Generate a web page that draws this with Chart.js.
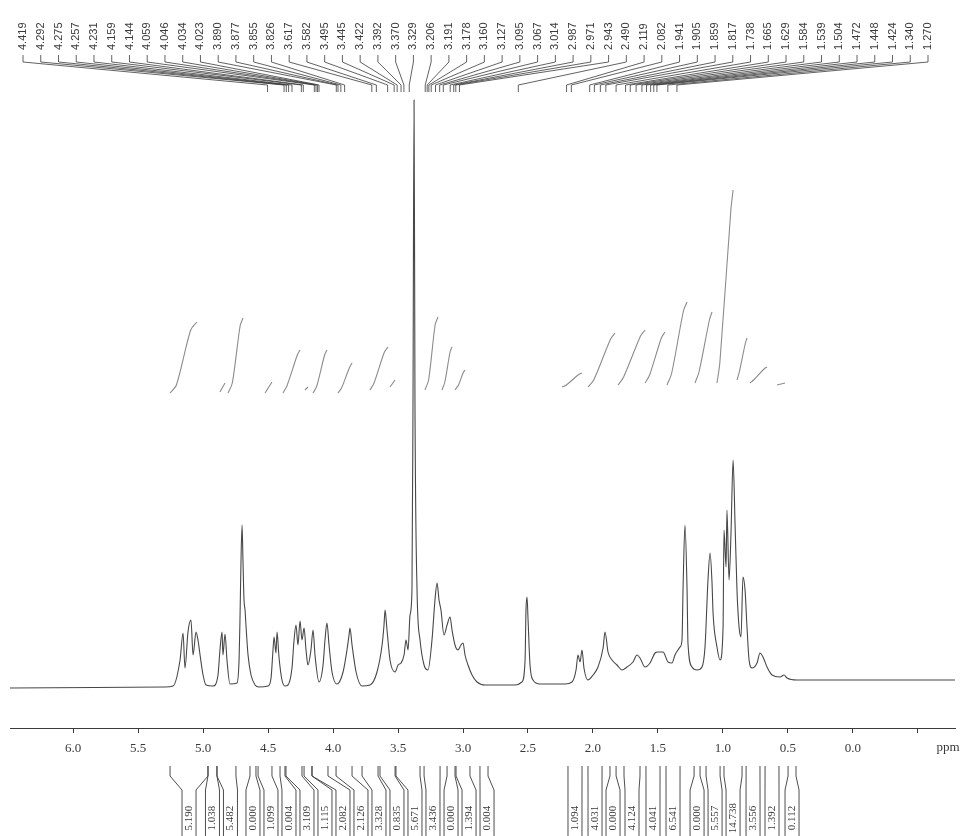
<!DOCTYPE html>
<html>
<head>
<meta charset="utf-8">
<script src="https://cdn.jsdelivr.net/npm/chart.js@4.4.1/dist/chart.umd.min.js"></script>
<style>
  html, body { margin: 0; padding: 0; background: #ffffff; }
</style>
</head>
<body>
<canvas id="nmr" width="963" height="836"></canvas>
<script>
// 1H NMR spectrum (scanned print): peak list on top, integrals below the axis

// peak picking list, ppm
const peakList = [
  4.419, 4.292, 4.275, 4.257, 4.231, 4.159, 4.144, 4.059, 4.046, 4.034, 4.023,
  3.890, 3.877, 3.855, 3.826, 3.617, 3.582, 3.495, 3.445, 3.422, 3.392, 3.370,
  3.329, 3.206, 3.191, 3.178, 3.160, 3.127, 3.095, 3.067, 3.014, 2.987, 2.971,
  2.943, 2.490, 2.119, 2.082, 1.941, 1.905, 1.859, 1.817, 1.738, 1.665, 1.629,
  1.584, 1.539, 1.504, 1.472, 1.448, 1.424, 1.340, 1.270
];

// spectrum trace: [ppm, intensity]
const spectrum = [
  [6.400, 0], [5.208, 1], [5.146, 2], [5.092, 28], [5.069, 55], [5.054, 20],
  [5.031, 56], [5.008, 68], [4.992, 33], [4.969, 56], [4.954, 48], [4.938, 33],
  [4.915, 13], [4.892, 3], [4.838, 2], [4.800, 13], [4.785, 38], [4.769, 56],
  [4.762, 33], [4.746, 54], [4.731, 28], [4.708, 4], [4.654, 5], [4.638, 28],
  [4.631, 68], [4.623, 128], [4.615, 163], [4.608, 128], [4.600, 88], [4.592, 78],
  [4.585, 63], [4.569, 33], [4.546, 13], [4.515, 3], [4.485, 1], [4.415, 2],
  [4.392, 10], [4.377, 38], [4.369, 51], [4.354, 35], [4.346, 56], [4.331, 31],
  [4.308, 8], [4.285, 2], [4.262, 3], [4.231, 20], [4.215, 48], [4.200, 63],
  [4.185, 43], [4.169, 67], [4.154, 48], [4.138, 60], [4.123, 38], [4.108, 23],
  [4.085, 38], [4.069, 58], [4.054, 33], [4.023, 6], [3.992, 23], [3.977, 48],
  [3.962, 65], [3.946, 43], [3.923, 16], [3.885, 4], [3.838, 16], [3.808, 38],
  [3.792, 53], [3.785, 60], [3.769, 43], [3.738, 16], [3.692, 2], [3.631, 3],
  [3.577, 16], [3.538, 43], [3.523, 63], [3.515, 78], [3.500, 58], [3.477, 28],
  [3.438, 16], [3.415, 23], [3.392, 25], [3.369, 33], [3.354, 48], [3.338, 38],
  [3.323, 73], [3.308, 98], [3.300, 288], [3.292, 588], [3.285, 288], [3.269, 98],
  [3.246, 48], [3.215, 23], [3.185, 18], [3.154, 48], [3.131, 88], [3.115, 105],
  [3.100, 88], [3.085, 78], [3.062, 53], [3.038, 63], [3.015, 71], [3.000, 58],
  [2.977, 43], [2.954, 38], [2.931, 43], [2.915, 45], [2.900, 33], [2.877, 23],
  [2.846, 13], [2.808, 6], [2.746, 3], [2.631, 3], [2.515, 3], [2.462, 6],
  [2.438, 28], [2.431, 78], [2.423, 91], [2.415, 68], [2.400, 23], [2.377, 8],
  [2.323, 4], [2.131, 4], [2.077, 6], [2.046, 18], [2.031, 33], [2.015, 26],
  [2.000, 38], [1.985, 20], [1.954, 8], [1.915, 13], [1.877, 21], [1.838, 40],
  [1.823, 56], [1.800, 36], [1.769, 28], [1.731, 23], [1.692, 18], [1.654, 21],
  [1.608, 26], [1.577, 33], [1.554, 30], [1.515, 21], [1.477, 25], [1.438, 35],
  [1.415, 36], [1.377, 36], [1.338, 26], [1.308, 25], [1.285, 33], [1.262, 38],
  [1.246, 41], [1.231, 48], [1.223, 98], [1.208, 163], [1.192, 98], [1.185, 45],
  [1.154, 21], [1.115, 18], [1.077, 21], [1.054, 41], [1.031, 108], [1.015, 135],
  [1.000, 105], [0.992, 75], [0.962, 41], [0.938, 28], [0.915, 61], [0.908, 158],
  [0.892, 121], [0.885, 178], [0.869, 108], [0.854, 155], [0.838, 228], [0.823, 165],
  [0.808, 98], [0.792, 61], [0.777, 51], [0.762, 111], [0.746, 98], [0.731, 61],
  [0.715, 28], [0.692, 20], [0.654, 25], [0.631, 35], [0.608, 31], [0.577, 21],
  [0.538, 13], [0.477, 11], [0.446, 13], [0.423, 10], [0.346, 8], [-0.869, 8]
];

// integral curves (same intensity units, drawn above the peaks)
const integralCurves = [
  [[5.169, 295], [5.120, 303], [5.010, 358], [4.962, 366]],
  [[4.785, 296], [4.746, 305]],
  [[4.723, 295], [4.690, 305], [4.630, 362], [4.608, 370]],
  [[4.438, 295], [4.385, 306]],
  [[4.300, 295], [4.270, 302], [4.190, 333], [4.169, 338]],
  [[4.131, 298], [4.108, 301]],
  [[4.069, 295], [4.040, 302], [3.980, 333], [3.962, 338]],
  [[3.877, 295], [3.850, 300], [3.790, 320], [3.769, 325]],
  [[3.631, 298], [3.600, 305], [3.520, 336], [3.492, 341]],
  [[3.477, 301], [3.438, 308]],
  [[3.208, 298], [3.180, 308], [3.130, 363], [3.108, 371]],
  [[3.077, 298], [3.055, 306], [3.015, 336], [3.000, 341]],
  [[2.977, 298], [2.950, 303], [2.915, 315], [2.900, 318]],
  [[2.154, 301], [2.120, 303], [2.030, 313], [2.000, 315]],
  [[1.954, 301], [1.910, 308], [1.780, 349], [1.746, 355]],
  [[1.723, 303], [1.680, 311], [1.550, 352], [1.515, 358]],
  [[1.515, 305], [1.480, 313], [1.390, 350], [1.362, 356]],
  [[1.346, 303], [1.310, 315], [1.220, 377], [1.192, 386]],
  [[1.131, 305], [1.100, 316], [1.020, 368], [1.000, 376]],
  [[0.962, 305], [0.940, 325], [0.855, 478], [0.838, 498]],
  [[0.808, 308], [0.790, 316], [0.745, 344], [0.731, 350]],
  [[0.708, 305], [0.680, 308], [0.600, 319], [0.577, 321]],
  [[0.500, 303], [0.438, 305]]
];

// integral values printed under the axis, with the ppm range each one covers
const integralValues = [
  '5.190', '1.038', '5.482', '0.000', '1.099', '0.004', '3.109', '1.115', '2.082',
  '2.126', '3.328', '0.835', '5.671', '3.436', '0.000', '1.394', '0.004',
  '1.094', '4.031', '0.000', '4.124', '4.041', '6.541', '0.000', '5.557',
  '14.738', '3.556', '1.392', '0.112'
];
const integralRanges = [
  [5.169, 4.877], [4.877, 4.808], [4.808, 4.662], [4.554, 4.508], [4.492, 4.385],
  [4.323, 4.285], [4.277, 4.154], [4.138, 4.077], [4.077, 3.954], [3.892, 3.769],
  [3.692, 3.569], [3.554, 3.438], [3.431, 3.246], [3.215, 3.092], [3.038, 2.977],
  [2.969, 2.862], [2.785, 2.723],
  [2.108, 2.000], [1.954, 1.846], [1.785, 1.738], [1.677, 1.554], [1.508, 1.400],
  [1.354, 1.246], [1.138, 1.092], [1.046, 0.938], [0.908, 0.769], [0.738, 0.631],
  [0.592, 0.485], [0.415, 0.354]
];

// printed axis
const axisTicks = [6.0, 5.5, 5.0, 4.5, 4.0, 3.5, 3.0, 2.5, 2.0, 1.5, 1.0, 0.5, 0.0, -0.5];
const axisUnit = 'ppm';

const INK = '#3a3a3a';

// ---------- peak list on top ----------
const peakLabelPlugin = {
  id: 'peakLabels',
  afterDraw(chart) {
    const ctx = chart.ctx;
    const xs = chart.scales.x;
    const first = 23;
    const last = 928;
    const step = (last - first) / (peakList.length - 1);

    ctx.save();
    ctx.strokeStyle = INK;
    ctx.fillStyle = INK;
    ctx.lineWidth = 0.8;
    ctx.font = '11px "Liberation Sans", Arial, sans-serif';
    peakList.forEach((p, i) => {
      const lx = first + i * step;
      const px = xs.getPixelForValue(p);
      ctx.beginPath();
      ctx.moveTo(lx, 55);
      ctx.lineTo(lx, 62);
      ctx.lineTo(px, 85);
      ctx.lineTo(px, 92);
      ctx.stroke();

      ctx.save();
      ctx.translate(lx, 50);
      ctx.rotate(-Math.PI / 2);
      ctx.textAlign = 'left';
      ctx.textBaseline = 'middle';
      ctx.fillText(p.toFixed(3), 0, 0);
      ctx.restore();
    });
    ctx.restore();
  }
};

// ---------- integral values under the axis ----------
const integralLabelPlugin = {
  id: 'integralLabels',
  afterDraw(chart) {
    const ctx = chart.ctx;
    const xs = chart.scales.x;
    const gap = 18;
    const half = 7;

    // box centres: centre of range, pushed right so the boxes don't overlap
    let prev = -Infinity;
    const centres = integralRanges.map(([a, b]) => {
      let c = (xs.getPixelForValue(a) + xs.getPixelForValue(b)) / 2;
      if (c < prev + gap) c = prev + gap;
      prev = c;
      return c;
    });

    ctx.save();
    ctx.strokeStyle = INK;
    ctx.fillStyle = INK;
    ctx.lineWidth = 0.9;
    ctx.font = '11px "Liberation Serif", "Times New Roman", serif';
    integralRanges.forEach(([a, b], i) => {
      const xa = xs.getPixelForValue(a);
      const xb = xs.getPixelForValue(b);
      const c = centres[i];
      ctx.beginPath();
      ctx.moveTo(xa, 766);
      ctx.lineTo(xa, 776);
      ctx.lineTo(c - half, 790);
      ctx.lineTo(c - half, 840);
      ctx.moveTo(xb, 766);
      ctx.lineTo(xb, 776);
      ctx.lineTo(c + half, 790);
      ctx.lineTo(c + half, 840);
      ctx.stroke();

      ctx.save();
      ctx.translate(c, 818);
      ctx.rotate(-Math.PI / 2);
      ctx.textAlign = 'center';
      ctx.textBaseline = 'middle';
      ctx.fillText(integralValues[i], 0, 0);
      ctx.restore();
    });

    // unit at the right end of the axis
    ctx.font = '13px "Liberation Serif", "Times New Roman", serif';
    ctx.textAlign = 'center';
    ctx.textBaseline = 'middle';
    ctx.fillText(axisUnit, 948, 748);
    ctx.restore();
  }
};

// ---------- chart ----------
const datasets = [
  {
    label: 'spectrum',
    data: spectrum.map(([x, y]) => ({ x, y })),
    showLine: true,
    borderColor: '#474747',
    borderWidth: 1.1,
    pointRadius: 0,
    cubicInterpolationMode: 'monotone'
  },
  ...integralCurves.map((curve, i) => ({
    label: 'integral ' + (i + 1),
    data: curve.map(([x, y]) => ({ x, y })),
    showLine: true,
    borderColor: '#8c8c8c',
    borderWidth: 1.1,
    pointRadius: 0,
    tension: 0.3
  }))
];

new Chart(document.getElementById('nmr'), {
  type: 'scatter',
  data: { datasets },
  options: {
    responsive: false,
    devicePixelRatio: 1,
    animation: false,
    layout: { padding: { left: 10, right: 8, top: 0, bottom: 0 } },
    plugins: {
      legend: { display: false },
      tooltip: { enabled: false }
    },
    scales: {
      // spectrum shift scale (hidden)
      x: {
        type: 'linear',
        reverse: true,
        min: -0.869,
        max: 6.4,
        display: false
      },
      y: {
        type: 'linear',
        min: -40,
        max: 688,
        display: false
      },
      // printed ppm axis
      x2: {
        type: 'linear',
        position: 'bottom',
        reverse: true,
        min: -0.785,
        max: 6.485,
        afterBuildTicks: (scale) => {
          scale.ticks = axisTicks.map((v) => ({ value: v }));
        },
        afterFit: (scale) => {
          scale.height = 108;
        },
        grid: {
          drawOnChartArea: false,
          tickLength: 5,
          color: INK
        },
        border: { color: INK, width: 1 },
        ticks: {
          padding: 8,
          color: INK,
          maxRotation: 0,
          autoSkip: false,
          font: { family: '"Liberation Serif", "Times New Roman", serif', size: 13 },
          callback: (v) => (v >= 0 ? Number(v).toFixed(1) : '')
        }
      }
    }
  },
  plugins: [peakLabelPlugin, integralLabelPlugin]
});
</script>
</body>
</html>
